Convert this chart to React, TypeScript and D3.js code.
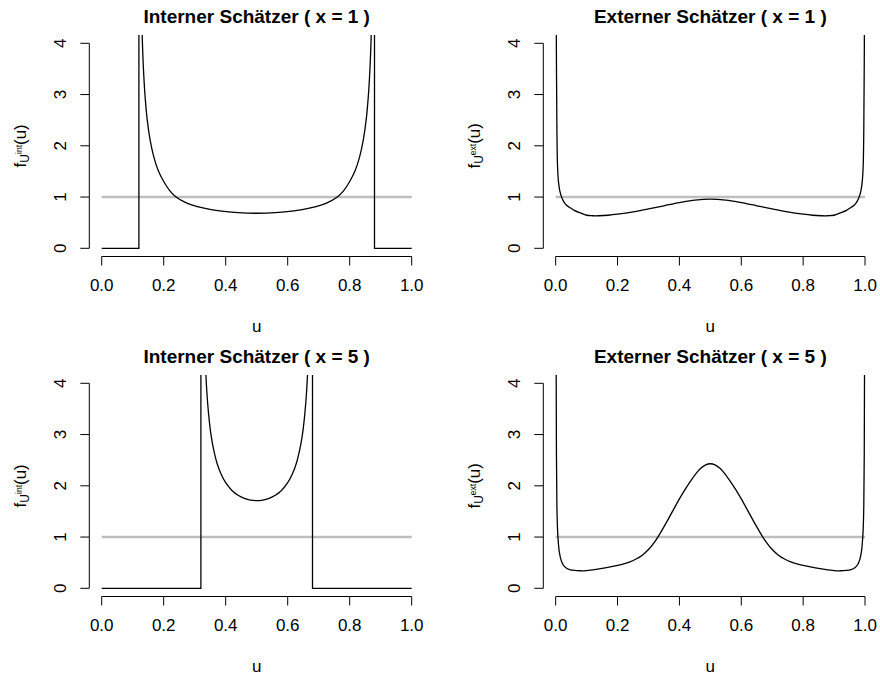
import React from "react";
import * as d3 from "d3";

// Axis ticks
const xTicks = [0, 0.2, 0.4, 0.6, 0.8, 1.0];
const yTicks = [0, 1, 2, 3, 4];

// Internal estimator, x = 1 (support 0.12 .. 0.88)
const intern1Support = [0.12, 0.88];
const intern1U = [0.1205, 0.124, 0.127, 0.131, 0.135, 0.14, 0.147, 0.156, 0.168, 0.183, 0.2, 0.22, 0.24, 0.265, 0.29, 0.33, 0.38, 0.44, 0.5, 0.56, 0.62, 0.67, 0.71, 0.735, 0.76, 0.78, 0.8, 0.817, 0.832, 0.844, 0.853, 0.86, 0.865, 0.869, 0.873, 0.876, 0.8795];
const intern1F = [19.5, 6.82, 5.12, 4.08, 3.46, 2.96, 2.5, 2.12, 1.785, 1.508, 1.303, 1.12, 1.0, 0.91, 0.848, 0.782, 0.73, 0.695, 0.684, 0.695, 0.73, 0.782, 0.848, 0.91, 1.0, 1.12, 1.303, 1.508, 1.785, 2.12, 2.5, 2.96, 3.46, 4.08, 5.12, 6.82, 19.5];

// External estimator, x = 1
const extern1U = [0.0005, 0.0015, 0.0025, 0.004, 0.006, 0.009, 0.013, 0.019, 0.027, 0.035, 0.045, 0.06, 0.08, 0.1, 0.12, 0.14, 0.17, 0.2, 0.25, 0.3, 0.35, 0.4, 0.45, 0.5, 0.55, 0.6, 0.65, 0.7, 0.75, 0.8, 0.83, 0.86, 0.88, 0.9, 0.92, 0.94, 0.955, 0.965, 0.973, 0.981, 0.987, 0.991, 0.994, 0.996, 0.9975, 0.9985, 0.9995];
const extern1F = [14, 5.5, 3.6, 2.3, 1.6, 1.3, 1.13, 1.0, 0.9, 0.84, 0.8, 0.74, 0.69, 0.645, 0.635, 0.635, 0.645, 0.665, 0.71, 0.77, 0.83, 0.89, 0.94, 0.96, 0.94, 0.89, 0.83, 0.77, 0.71, 0.665, 0.645, 0.635, 0.635, 0.645, 0.69, 0.74, 0.8, 0.84, 0.9, 1.0, 1.13, 1.3, 1.6, 2.3, 3.6, 5.5, 14];

// Internal estimator, x = 5 (support 0.32 .. 0.68)
const intern5Support = [0.32, 0.68];
const intern5U = [0.3205, 0.324, 0.328, 0.333, 0.339, 0.345, 0.353, 0.362, 0.372, 0.385, 0.4, 0.42, 0.44, 0.46, 0.48, 0.5, 0.52, 0.54, 0.56, 0.58, 0.6, 0.615, 0.628, 0.638, 0.647, 0.655, 0.661, 0.667, 0.672, 0.676, 0.6795];
const intern5F = [23, 8.2, 5.84, 4.62, 3.85, 3.39, 2.98, 2.68, 2.44, 2.23, 2.06, 1.91, 1.815, 1.755, 1.72, 1.71, 1.72, 1.755, 1.815, 1.91, 2.06, 2.23, 2.44, 2.68, 2.98, 3.39, 3.85, 4.62, 5.84, 8.2, 23];

// External estimator, x = 5
const extern5U = [0.0005, 0.0015, 0.0025, 0.004, 0.006, 0.0085, 0.012, 0.017, 0.024, 0.033, 0.045, 0.06, 0.08, 0.1, 0.13, 0.16, 0.2, 0.22, 0.24, 0.26, 0.28, 0.3, 0.32, 0.34, 0.36, 0.38, 0.4, 0.42, 0.44, 0.46, 0.47, 0.485, 0.5, 0.515, 0.53, 0.54, 0.56, 0.58, 0.6, 0.62, 0.64, 0.66, 0.68, 0.7, 0.72, 0.74, 0.76, 0.78, 0.8, 0.84, 0.87, 0.9, 0.92, 0.94, 0.955, 0.967, 0.976, 0.983, 0.988, 0.9915, 0.994, 0.996, 0.9975, 0.9985, 0.9995];
const extern5F = [12, 4.5, 2.6, 1.6, 1.15, 0.9, 0.7, 0.56, 0.46, 0.4, 0.365, 0.348, 0.342, 0.346, 0.368, 0.397, 0.446, 0.476, 0.516, 0.571, 0.646, 0.756, 0.906, 1.096, 1.306, 1.526, 1.746, 1.946, 2.126, 2.286, 2.349, 2.41, 2.43, 2.41, 2.349, 2.286, 2.126, 1.946, 1.746, 1.526, 1.306, 1.096, 0.906, 0.756, 0.646, 0.571, 0.516, 0.476, 0.446, 0.397, 0.368, 0.346, 0.342, 0.348, 0.365, 0.4, 0.46, 0.56, 0.7, 0.9, 1.15, 1.6, 2.6, 4.5, 12];

const titles = [
  "Interner Schätzer ( x = 1 )",
  "Externer Schätzer ( x = 1 )",
  "Interner Schätzer ( x = 5 )",
  "Externer Schätzer ( x = 5 )",
];

const FONT = "'Liberation Sans', Arial, Helvetica, sans-serif";

type PanelProps = {
  id: string;
  title: string;
  sup: string;
  left: number;
  right: number;
  top: number;
  u: number[];
  f: number[];
  support?: number[];
};

function Panel({ id, title, sup, left, right, top, u, f, support }: PanelProps) {
  const x = d3.scaleLinear().domain([-0.04, 1.04]).range([left, right]);
  const y = d3.scaleLinear().domain([-0.16, 4.16]).range([top + 221.4, top]);
  const bottom = top + 221.4;

  const pts: [number, number][] = u.map((d, i) => [d, f[i]]);
  const curve = d3
    .line<[number, number]>()
    .x((d) => x(d[0]))
    .y((d) => y(d[1]))
    .curve(d3.curveCatmullRom.alpha(0.5));
  const straight = d3
    .line<[number, number]>()
    .x((d) => x(d[0]))
    .y((d) => y(d[1]));

  const steps: [number, number][][] = support
    ? [
        [[0, 0], [support[0], 0], [support[0], 20]],
        [[support[1], 20], [support[1], 0], [1, 0]],
      ]
    : [];

  const cx = (left + right) / 2;
  const cy = y(2);
  const tickFont = 17;

  return (
    <g>
      <defs>
        <clipPath id={id}>
          <rect x={left} y={top} width={right - left} height={bottom - top} />
        </clipPath>
      </defs>
      <text x={cx} y={top - 12} textAnchor="middle" fontWeight="bold" fontSize={19} fontFamily={FONT}>
        {title}
      </text>
      {/* reference density of the uniform distribution */}
      <line x1={x(0)} x2={x(1)} y1={y(1)} y2={y(1)} stroke="#bebebe" strokeWidth={2.5} />
      <g clipPath={`url(#${id})`} fill="none" stroke="#000" strokeWidth={1.3}>
        {steps.map((s, i) => (
          <path key={i} d={straight(s) || ""} />
        ))}
        <path d={curve(pts) || ""} />
      </g>
      {/* x axis */}
      <g stroke="#000" strokeWidth={1}>
        <line x1={x(0)} x2={x(1)} y1={bottom} y2={bottom} />
        {xTicks.map((t) => (
          <line key={t} x1={x(t)} x2={x(t)} y1={bottom} y2={bottom + 9} />
        ))}
      </g>
      {xTicks.map((t) => (
        <text key={t} x={x(t)} y={bottom + 34} textAnchor="middle" fontSize={tickFont} fontFamily={FONT}>
          {d3.format(".1f")(t)}
        </text>
      ))}
      <text x={cx} y={bottom + 75} textAnchor="middle" fontSize={tickFont} fontFamily={FONT}>
        u
      </text>
      {/* y axis */}
      <g stroke="#000" strokeWidth={1}>
        <line x1={left} x2={left} y1={y(0)} y2={y(4)} />
        {yTicks.map((t) => (
          <line key={t} x1={left} x2={left - 9} y1={y(t)} y2={y(t)} />
        ))}
      </g>
      {yTicks.map((t) => (
        <text
          key={t}
          transform={`translate(${left - 23.5},${y(t)}) rotate(-90)`}
          textAnchor="middle"
          fontSize={tickFont}
          fontFamily={FONT}
        >
          {String(t)}
        </text>
      ))}
      <text transform={`translate(${left - 63},${cy}) rotate(-90)`} textAnchor="middle" fontSize={tickFont} fontFamily={FONT}>
        <tspan>f</tspan>
        <tspan fontSize={12} dy={3}>U</tspan>
        <tspan fontSize={8.5} dy={-7}>{sup}</tspan>
        <tspan fontSize={tickFont} dy={4}>(u)</tspan>
      </text>
    </g>
  );
}

export default function App() {
  const L = [89.3, 424.1];
  const R = [543.3, 877.4];
  const T = [35.1, 375.1];
  return (
    <svg
      width={880}
      height={675}
      style={{ position: "absolute", left: 0, top: 0, background: "#fff" }}
    >
      <rect width={880} height={675} fill="#fff" />
      <Panel id="c1" title={titles[0]} sup="int" left={L[0]} right={L[1]} top={T[0]} u={intern1U} f={intern1F} support={intern1Support} />
      <Panel id="c2" title={titles[1]} sup="ext" left={R[0]} right={R[1]} top={T[0]} u={extern1U} f={extern1F} />
      <Panel id="c3" title={titles[2]} sup="int" left={L[0]} right={L[1]} top={T[1]} u={intern5U} f={intern5F} support={intern5Support} />
      <Panel id="c4" title={titles[3]} sup="ext" left={R[0]} right={R[1]} top={T[1]} u={extern5U} f={extern5F} />
    </svg>
  );
}
